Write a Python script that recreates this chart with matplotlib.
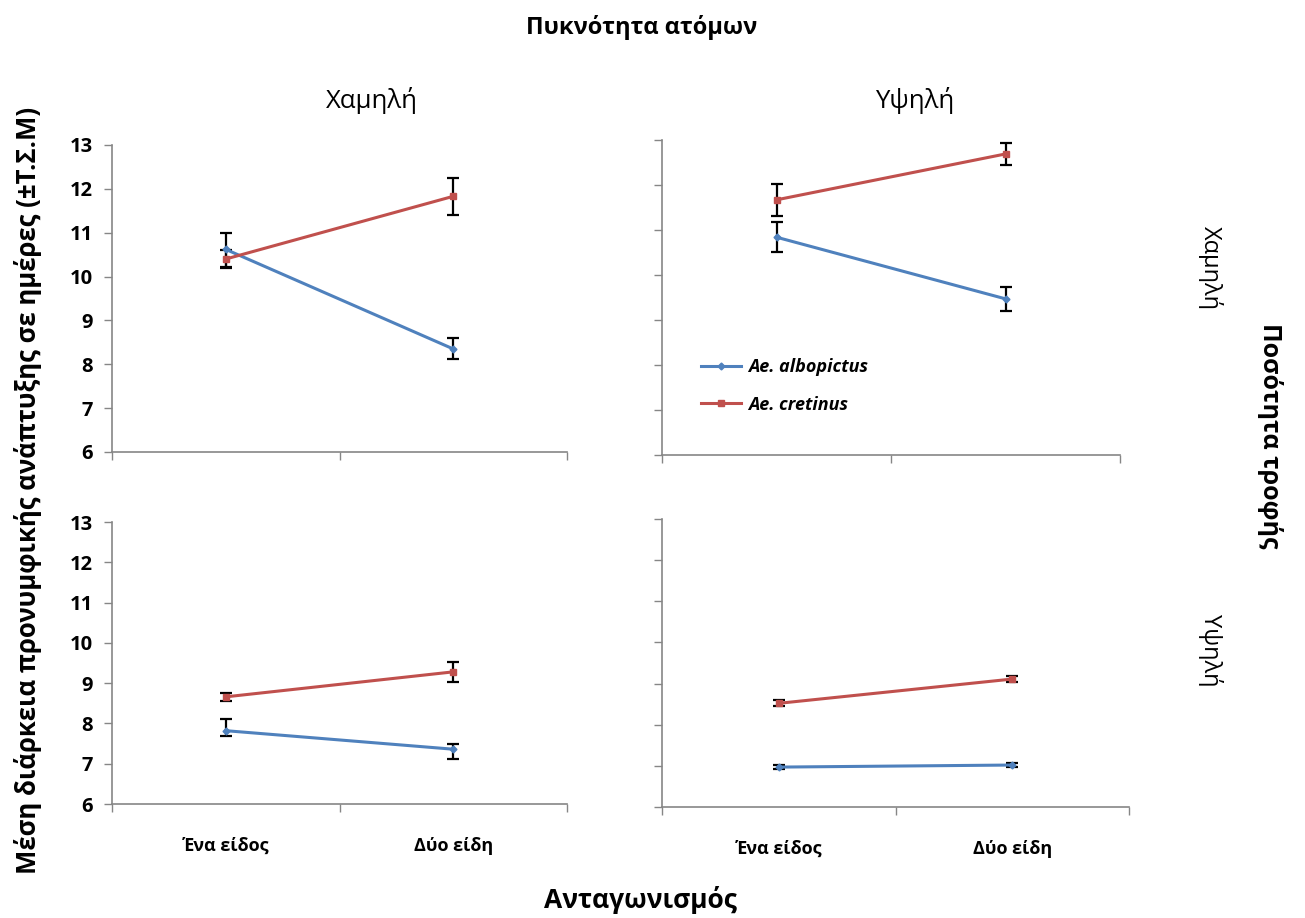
import matplotlib
matplotlib.use("Agg")
import matplotlib.pyplot as plt
from matplotlib.lines import Line2D

plt.rcParams['font.family'] = ['Open Sans', 'DejaVu Sans']

# Categories and panel labels
categories = ['Ένα είδος', 'Δύο είδη']
density_levels = ['Χαμηλή', 'Υψηλή']
food_levels = ['Χαμηλή', 'Υψηλή']
species = ['Ae. albopictus', 'Ae. cretinus']

# Mean larval development time (days); lo/hi = lower/upper error (S.E.)
# low food, low density
albo_ll = [10.62, 8.35]
albo_ll_lo = [0.40, 0.24]
albo_ll_hi = [0.38, 0.24]
cret_ll = [10.40, 11.83]
cret_ll_lo = [0.20, 0.42]
cret_ll_hi = [0.20, 0.42]
# low food, high density
albo_lh = [10.84, 9.47]
albo_lh_lo = [0.34, 0.26]
albo_lh_hi = [0.34, 0.26]
cret_lh = [11.67, 12.69]
cret_lh_lo = [0.35, 0.25]
cret_lh_hi = [0.35, 0.25]
# high food, low density
albo_hl = [7.82, 7.36]
albo_hl_lo = [0.12, 0.25]
albo_hl_hi = [0.30, 0.12]
cret_hl = [8.66, 9.28]
cret_hl_lo = [0.10, 0.25]
cret_hl_hi = [0.10, 0.25]
# high food, high density
albo_hh = [6.97, 7.02]
albo_hh_lo = [0.05, 0.05]
albo_hh_hi = [0.05, 0.05]
cret_hh = [8.52, 9.11]
cret_hh_lo = [0.07, 0.07]
cret_hh_hi = [0.07, 0.07]

BLUE = '#4F81BD'
RED = '#C0504D'
GREY = '#868686'

W, H = 1305, 918
fig = plt.figure(figsize=(W / 100, H / 100), dpi=100)


def add_axes_px(x0, y0, x1, y1):
    return fig.add_axes([x0 / W, 1 - y1 / H, (x1 - x0) / W, (y1 - y0) / H])


panels = [
    (add_axes_px(112, 145, 567, 452), albo_ll, albo_ll_lo, albo_ll_hi, cret_ll, cret_ll_lo, cret_ll_hi),
    (add_axes_px(662, 140, 1120, 455), albo_lh, albo_lh_lo, albo_lh_hi, cret_lh, cret_lh_lo, cret_lh_hi),
    (add_axes_px(112, 522, 567, 804), albo_hl, albo_hl_lo, albo_hl_hi, cret_hl, cret_hl_lo, cret_hl_hi),
    (add_axes_px(662, 519, 1129, 807), albo_hh, albo_hh_lo, albo_hh_hi, cret_hh, cret_hh_lo, cret_hh_hi),
]

xpos = [0.5, 1.5]
for i, (ax, am, alo, ahi, cm, clo, chi) in enumerate(panels):
    ax.errorbar(xpos, am, yerr=[alo, ahi], color=BLUE, lw=2.2, marker='D', ms=3.5,
                ecolor='black', elinewidth=1.6, capsize=4, capthick=1.6, zorder=3)
    ax.errorbar(xpos, cm, yerr=[clo, chi], color=RED, lw=2.2, marker='s', ms=4.5,
                ecolor='black', elinewidth=1.6, capsize=4, capthick=1.6, zorder=3)
    ax.set_xlim(0, 2)
    ax.set_ylim(6, 13)
    ax.set_yticks(range(6, 14))
    ax.set_xticks([0, 1, 2])
    ax.set_xticklabels([])
    ax.tick_params(axis='both', which='major', direction='out', length=6, width=1, color=GREY)
    for side in ('top', 'right'):
        ax.spines[side].set_visible(False)
    for side in ('left', 'bottom'):
        ax.spines[side].set_color(GREY)
        ax.spines[side].set_linewidth(1.2)
    if i % 2 == 0:
        ax.set_yticklabels([str(v) for v in range(6, 14)], fontsize=14.5, fontweight='bold')
        ax.tick_params(axis='y', pad=8)
    else:
        ax.set_yticklabels([])
    if i >= 2:
        ax.set_xticks(xpos, minor=True)
        ax.set_xticklabels(categories, minor=True, fontsize=13, fontweight='bold')
        ax.tick_params(axis='x', which='minor', length=0, pad=24)

# Legend in the upper right panel: plain line + marker handles
handles = [Line2D([], [], color=BLUE, lw=2.2, marker='D', ms=3.5),
           Line2D([], [], color=RED, lw=2.2, marker='s', ms=4.5)]
panels[1][0].legend(handles, species, loc='upper left', bbox_to_anchor=(0.05, 0.36), frameon=False,
                    handlelength=2.2, labelspacing=1.1, handletextpad=0.4,
                    prop={'size': 13, 'weight': 'bold', 'style': 'italic'})

# Column titles (density) and row titles (food)
fig.text(642 / W, 1 - 28 / H, 'Πυκνότητα ατόμων', ha='center', va='center', fontsize=17, fontweight='bold')
fig.text(372 / W, 1 - 100 / H, density_levels[0], ha='center', va='center', fontsize=18.5)
fig.text(915 / W, 1 - 100 / H, density_levels[1], ha='center', va='center', fontsize=18.5)
fig.text(1210 / W, 1 - 268 / H, food_levels[0], ha='center', va='center', fontsize=17, rotation=-90)
fig.text(1210 / W, 1 - 650 / H, food_levels[1], ha='center', va='center', fontsize=17, rotation=-90)
fig.text(1270 / W, 1 - 436 / H, 'Ποσότητα τροφής', ha='center', va='center', fontsize=18,
         fontweight='bold', rotation=-90)

fig.text(28 / W, 1 - 490 / H, 'Μέση διάρκεια προνυμφικής ανάπτυξης σε ημέρες (±Τ.Σ.Μ)',
         ha='center', va='center', fontsize=18.5, fontweight='bold', rotation=90)
fig.text(640 / W, 1 - 900 / H, 'Ανταγωνισμός', ha='center', va='center', fontsize=19, fontweight='bold')

fig.savefig('out.png', dpi=100, facecolor='white')
